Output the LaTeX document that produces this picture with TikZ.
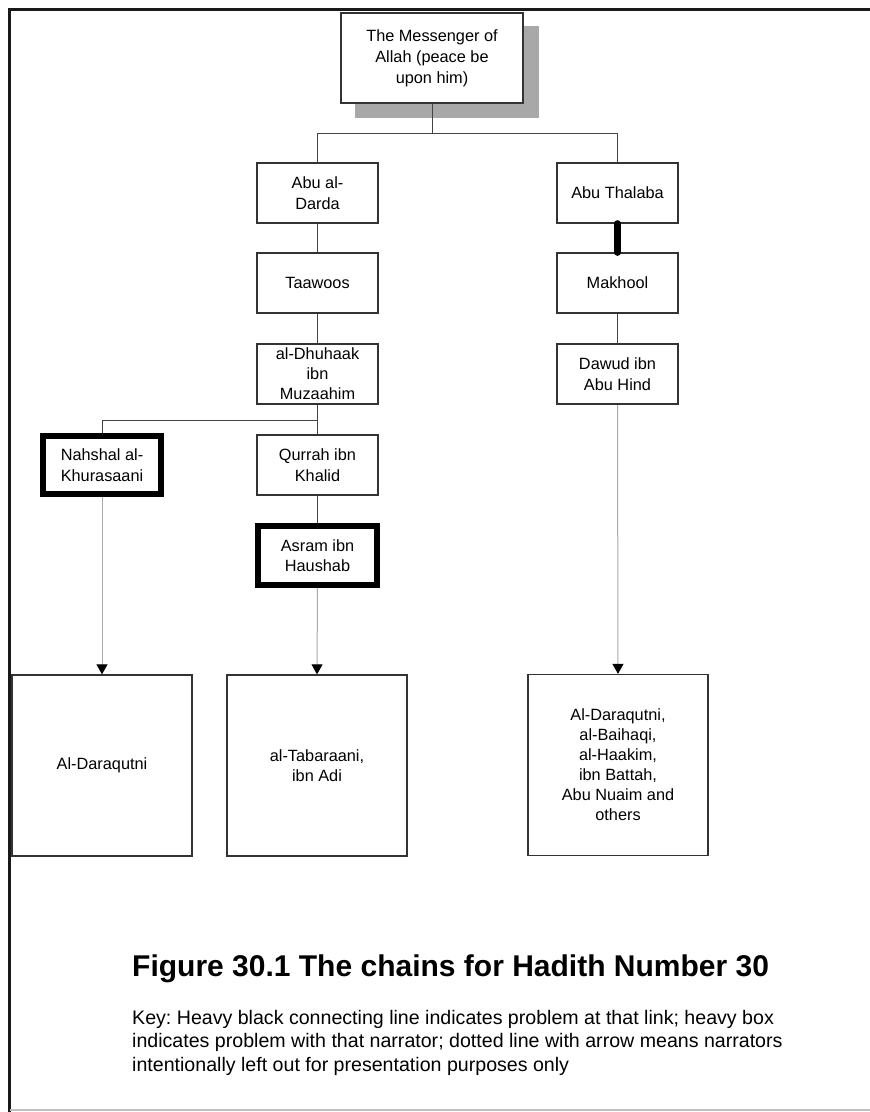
\documentclass[tikz,border=0pt]{standalone}
\usepackage{fontspec}
\setmainfont{Liberation Sans}
\usetikzlibrary{arrows.meta,calc,backgrounds}
\definecolor{boxc}{HTML}{333333}
\definecolor{linec}{HTML}{444444}
\definecolor{omitc}{HTML}{AAAAAA}
\definecolor{shadowc}{HTML}{A8A8A8}
\frenchspacing
\begin{document}
\begin{tikzpicture}[x=1pt,y=-1pt,
  box/.style={draw=boxc, line width=1.3pt, fill=white, inner sep=0pt, align=center,
    minimum width=121pt, minimum height=60pt, font=\fontsize{16.3}{20.5}\selectfont, text=black},
  bigbox/.style={box, minimum width=180pt, minimum height=181pt},
  heavybox/.style={box, draw=black, line width=6pt, minimum width=119pt, minimum height=59pt},
  link/.style={draw=linec, line width=1pt},
  omit/.style={draw=omitc, line width=1pt, -{Triangle[width=11pt,length=10pt,color=black]}},
  badlink/.style={draw=black, line width=7pt, line cap=round},
  keyline/.style={anchor=base west, inner sep=0pt, font=\fontsize{19.6}{23.5}\selectfont, text=black}]
\useasboundingbox (0,0) rectangle (870,1112);

% nodes
\node[box, minimum width=182pt, minimum height=90pt, font=\fontsize{16.3}{21}\selectfont] (top) at (432,58) {The Messenger of\\Allah (peace be\\upon him)};
\node[box] (darda) at (317.5,193) {Abu al-\\Darda};
\node[box] (taawoos) at (317.5,283) {Taawoos};
\node[box, font=\fontsize{16.3}{20}\selectfont] (dhuhaak) at (317.5,374) {al-Dhuhaak\\ibn\\Muzaahim};
\node[heavybox, minimum width=118pt, minimum height=58pt] (nahshal) at (102,465) {Nahshal al-\\Khurasaani};
\node[box] (qurrah) at (317.5,465) {Qurrah ibn\\Khalid};
\node[heavybox] (asram) at (317.5,555.5) {Asram ibn\\Haushab};
\node[box] (thalaba) at (617.5,193) {Abu Thalaba};
\node[box] (makhool) at (617.5,283) {Makhool};
\node[box] (dawud) at (617.5,374) {Dawud ibn\\Abu Hind};
\node[bigbox] (b1) at (102,765.5) {Al-Daraqutni};
\node[bigbox] (b2) at (317,765.5) {al-Tabaraani,\\ibn Adi};
\node[bigbox, font=\fontsize{16.3}{20}\selectfont] (b3) at (618,765) {Al-Daraqutni,\\al-Baihaqi,\\al-Haakim,\\ibn Battah,\\Abu Nuaim and\\others};

\begin{scope}[on background layer]
  \fill[white] (0,0) rectangle (870,1112);
  \fill[shadowc] ($(top.north west)+(15,14)$) rectangle ($(top.south east)+(15,14)$);
  \coordinate (j1) at ($(top.south)+(0,30)$);
  \draw[link] (top.south) -- (j1) -| (darda.north);
  \draw[link] (j1) -| (thalaba.north);
  \draw[link] (darda) -- (taawoos);
  \draw[link] (taawoos) -- (dhuhaak);
  \draw[link] (dhuhaak) -- (qurrah);
  \coordinate (j2) at ($(dhuhaak.south)+(0,16)$);
  \draw[link] (j2) -| (nahshal.north);
  \draw[link] (qurrah) -- (asram);
  \draw[link] (makhool) -- (dawud);
  \draw[omit] (nahshal.south) -- (b1.north);
  \draw[omit] (asram.south) -- (b2.north);
  \draw[omit] (dawud.south) -- (b3.north);
\end{scope}

\draw[badlink] (thalaba.south) -- (makhool.north);

% frame
\draw[line width=3.5pt, black!90] (870,9.5) -- (9.5,9.5) -- (9.5,1112);
\draw[line width=2pt, black!25] (9.5,1110) -- (870,1110);

% caption
\node[anchor=base west, inner sep=0pt, font=\bfseries\fontsize{30}{36}\selectfont] (title) at (132,976) {Figure 30.1 The chains for Hadith Number 30};
\node[keyline] (k1) at (132,1024) {Key: Heavy black connecting line indicates problem at that link; heavy box};
\node[keyline] (k2) at (132,1047.5) {indicates problem with that narrator; dotted line with arrow means narrators};
\node[keyline] (k3) at (132,1071) {intentionally left out for presentation purposes only};
\end{tikzpicture}
\end{document}
